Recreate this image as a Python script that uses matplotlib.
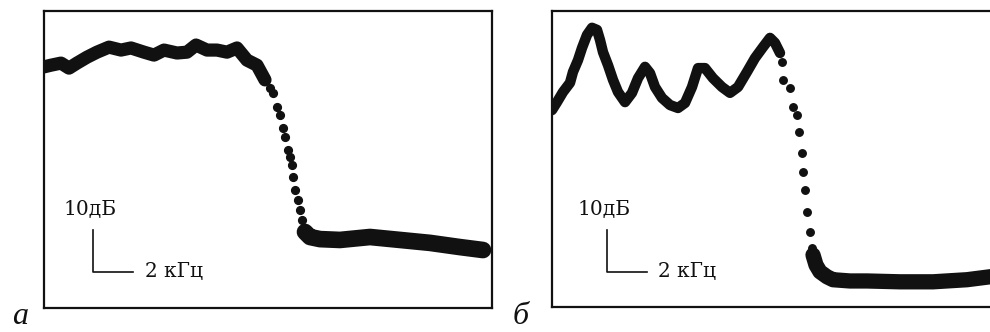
import matplotlib
matplotlib.use("Agg")
import matplotlib.pyplot as plt

# ---------------- data (frequency in kHz, level in dB) ----------------
# panel a
a_top_khz = [0.0, 0.35, 0.85, 1.25, 1.65, 2.15, 2.65, 3.25, 3.85, 4.35, 5.0, 5.5,
             6.0, 6.65, 7.15, 7.6, 8.15, 8.65, 9.15, 9.65, 10.15, 10.65, 11.05]
a_top_db = [-13.3, -12.9, -12.4, -13.6, -12.4, -11.0, -9.8, -8.6, -9.3, -8.8, -9.8, -10.5,
            -9.3, -10.0, -9.8, -8.1, -9.3, -9.3, -9.8, -8.8, -11.7, -12.9, -16.4]
a_drop_khz = [11.3, 11.45, 11.65, 11.8, 11.95, 12.05, 12.2, 12.3, 12.4, 12.45, 12.55,
              12.7, 12.8, 12.9, 13.05]
a_drop_db = [-18.3, -19.5, -22.9, -24.8, -27.9, -30.0, -33.1, -34.8, -36.7, -39.5, -42.6,
             -45.0, -47.4, -49.8, -52.1]
a_floor_khz = [13.05, 13.3, 13.8, 14.8, 16.3, 17.8, 19.3, 20.8, 21.95]
a_floor_db = [-52.6, -53.8, -54.3, -54.5, -53.8, -54.5, -55.2, -56.2, -56.9]

# panel b
b_peaks_khz = [0.0, 0.25, 0.55, 0.9, 1.05, 1.3, 1.5, 1.75, 2.0, 2.25, 2.4, 2.55, 2.8,
               3.05, 3.3, 3.65, 4.0, 4.3, 4.65, 4.9, 5.15, 5.5, 5.9, 6.3, 6.65, 7.0,
               7.3, 7.65, 8.05, 8.5, 8.9, 9.3, 9.75, 10.15, 10.55, 10.9, 11.15, 11.4]
b_peaks_db = [-23.6, -21.7, -19.3, -17.1, -14.5, -11.7, -8.8, -5.7, -4.0, -4.5, -6.9,
              -9.8, -12.9, -16.4, -19.3, -21.7, -19.5, -16.0, -13.3, -14.8, -18.1, -20.7,
              -22.4, -23.1, -21.9, -18.1, -13.6, -13.6, -16.0, -18.1, -19.5, -18.1,
              -14.5, -11.2, -8.6, -6.4, -7.6, -10.0]
b_drop_khz = [11.5, 11.55, 11.9, 12.05, 12.25, 12.35, 12.5, 12.55, 12.65, 12.75, 12.9, 13.0]
b_drop_db = [-12.1, -16.4, -18.3, -22.9, -24.8, -28.8, -33.8, -38.3, -42.6, -47.9,
             -52.6, -56.4]
b_floor_khz = [13.05, 13.2, 13.4, 13.75, 14.05, 14.9, 15.75, 17.4, 19.05, 20.75, 21.9, 22.3]
b_floor_db = [-58.1, -60.5, -62.1, -63.3, -64.0, -64.3, -64.3, -64.5, -64.5, -64.0, -63.3, -63.0]

# scale bar
bar_khz = 2
bar_db = 10
bar_freq_label = "2 кГц"
bar_level_label = "10дБ"
panel_labels = ["а", "б"]

INK = "#111111"

fig = plt.figure(figsize=(9.9, 3.32), dpi=100)

ax_a = fig.add_axes([44 / 990, 24 / 332, 448 / 990, 297 / 332])
ax_b = fig.add_axes([552 / 990, 25 / 332, 445 / 990, 296 / 332])


def style(ax, xmax, ymin):
    ax.set_xlim(0, xmax)
    ax.set_ylim(ymin, 0)
    ax.set_xticks([])
    ax.set_yticks([])
    for s in ax.spines.values():
        s.set_linewidth(1.6)
        s.set_color(INK)


style(ax_a, 22.4, -70.7)
style(ax_b, 22.25, -70.5)

kw_line = dict(color=INK, solid_capstyle="round", solid_joinstyle="round")

# panel a
ax_a.plot(a_top_khz, a_top_db, lw=9.5, **kw_line)
ax_a.plot(a_drop_khz, a_drop_db, ls="none", marker="o", ms=5.6, color=INK)
ax_a.plot(a_floor_khz, a_floor_db, lw=12.0, **kw_line)

# panel b
ax_b.plot(b_peaks_khz, b_peaks_db, lw=7.5, **kw_line)
ax_b.plot(b_drop_khz, b_drop_db, ls="none", marker="o", ms=5.4, color=INK)
ax_b.plot(b_floor_khz, b_floor_db, lw=11.0, **kw_line)


def scale_bar(ax, x0, y0, tx_level, tx_freq):
    ax.plot([x0, x0, x0 + bar_khz], [y0 + bar_db, y0, y0], color=INK, lw=1.2)
    ax.text(tx_level, y0 + bar_db + 4.8, bar_level_label, family="DejaVu Serif",
            fontsize=14.5, color=INK, ha="left", va="center")
    ax.text(tx_freq, y0 + 0.1, bar_freq_label, family="DejaVu Serif",
            fontsize=14.5, color=INK, ha="left", va="center")


scale_bar(ax_a, 2.45, -62.1, 0.95, 5.05)
scale_bar(ax_b, 2.75, -62.1, 1.25, 5.3)

fig.text(12 / 990, 8 / 332, panel_labels[0], family="Liberation Serif", style="italic",
         fontsize=23, color=INK, ha="left", va="baseline")
fig.text(513 / 990, 8 / 332, panel_labels[1], family="Liberation Serif", style="italic",
         fontsize=23, color=INK, ha="left", va="baseline")

fig.savefig("out.png", dpi=100, facecolor="white")
